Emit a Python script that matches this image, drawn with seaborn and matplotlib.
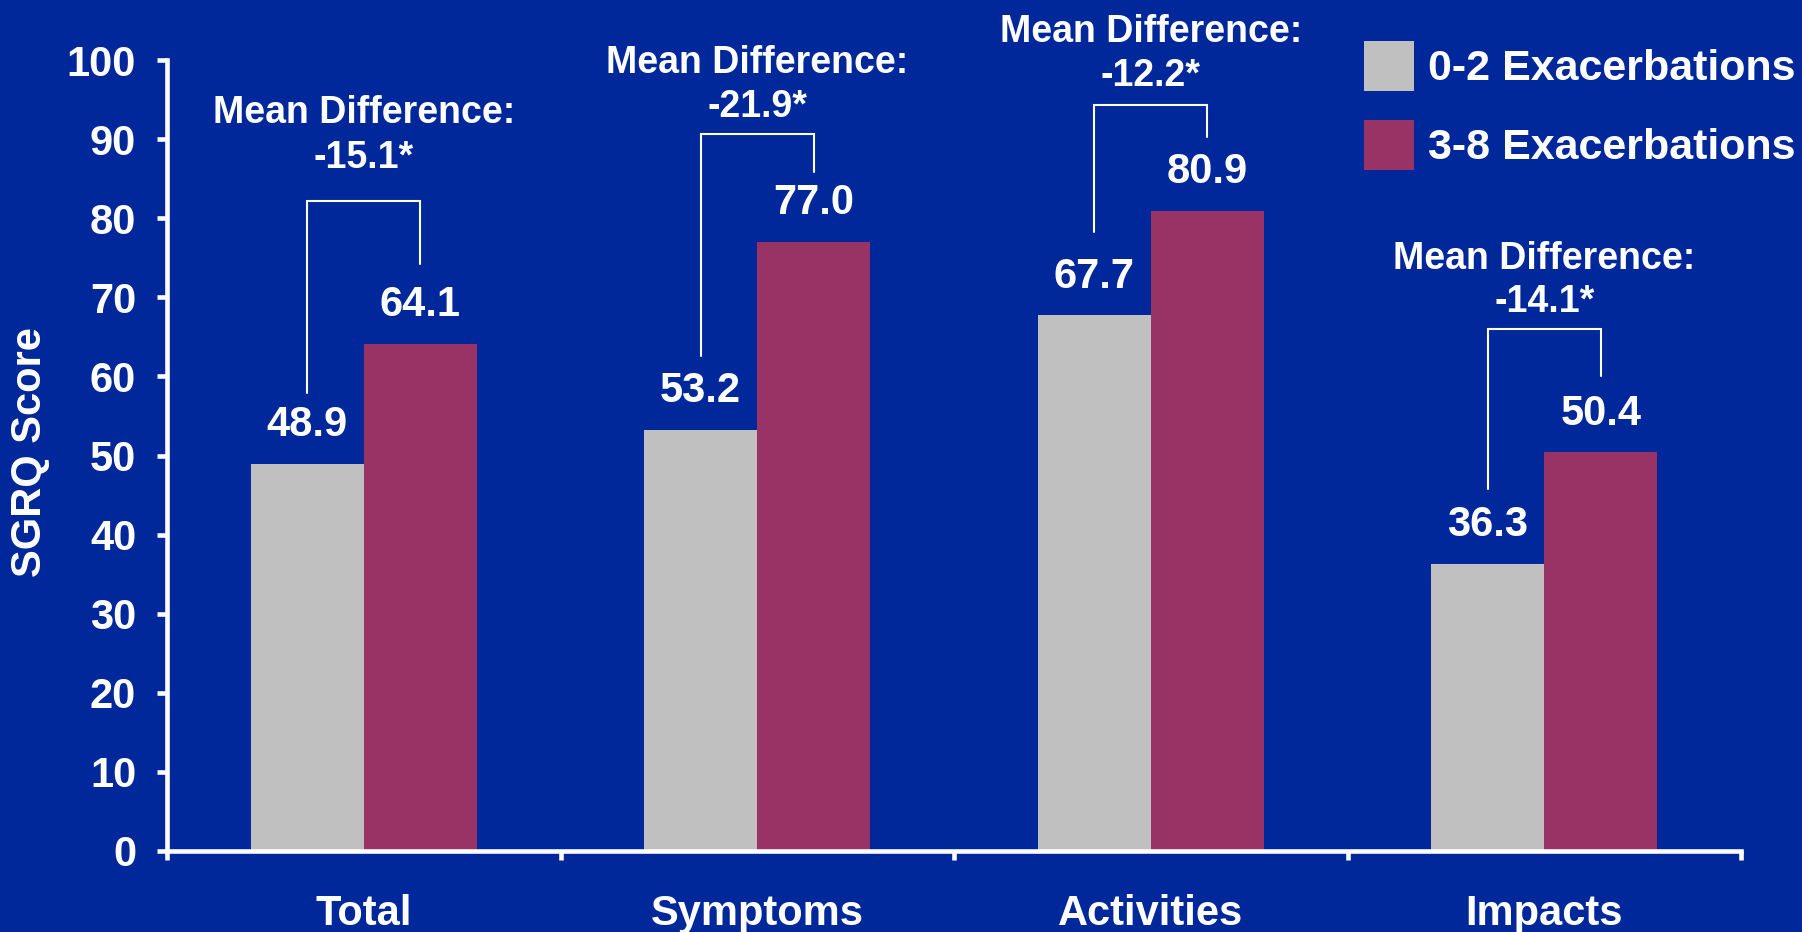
import matplotlib
matplotlib.use("Agg")
import matplotlib.pyplot as plt
import seaborn as sns
import pandas as pd

# SGRQ scores by exacerbation frequency
domains = ["Total", "Symptoms", "Activities", "Impacts"]
groups = ["0-2 Exacerbations", "3-8 Exacerbations"]
low_exac = [48.9, 53.2, 67.7, 36.3]
high_exac = [64.1, 77.0, 80.9, 50.4]
mean_diff = ["-15.1*", "-21.9*", "-12.2*", "-14.1*"]
y_ticks = [0, 10, 20, 30, 40, 50, 60, 70, 80, 90, 100]

BG = "#00289A"
BAR_COLORS = ["#C0C0C0", "#993366"]
FG = "white"

# bracket / annotation offsets (in score units)
left_gap = [9.0, 9.4, 10.5, 9.5]
right_gap = [10.1, 8.9, 9.4, 9.6]
top_gap = [18.1, 13.6, 13.4, 15.6]
line1_gap = [11.1, 9.0, 9.3, 8.9]
line2_gap = [5.4, 3.4, 3.7, 3.4]
value_gap = 4.9

sns.set_theme(style="white")
plt.rcParams["font.family"] = ["Liberation Sans", "DejaVu Sans"]
plt.rcParams["font.weight"] = "bold"

df = pd.DataFrame({
    "domain": domains * 2,
    "group": [groups[0]] * len(domains) + [groups[1]] * len(domains),
    "score": low_exac + high_exac,
})

W, H = 1802, 932
fig = plt.figure(figsize=(W / 100, H / 100), dpi=100, facecolor=BG)
ax = fig.add_axes([167 / W, 81 / H, 1574 / W, 791 / H])
ax.set_facecolor(BG)

sns.barplot(data=df, x="domain", y="score", hue="group", order=domains,
            hue_order=groups, palette=BAR_COLORS, width=0.575, saturation=1,
            gap=0, linewidth=0, ax=ax)

ax.set_ylim(0, 100)
ax.set_xlim(-0.5, len(domains) - 0.5)
ax.set_yticks(y_ticks)
ax.set_yticklabels([str(t) for t in y_ticks], fontsize=30, color=FG, fontweight="bold")

# category boundary ticks below the axis, labels centred on the groups
ax.set_xticks([i - 0.5 for i in range(len(domains) + 1)])
ax.set_xticklabels([])
ax.set_xticks(range(len(domains)), minor=True)
ax.set_xticklabels(domains, minor=True, fontsize=30, color=FG, fontweight="bold")
ax.tick_params(axis="x", which="major", direction="out", length=6.5, width=3.3,
               color=FG, bottom=True)
ax.tick_params(axis="x", which="minor", length=0, pad=31)
ax.tick_params(axis="y", direction="out", length=7.2, width=3.3, color=FG,
               pad=15, left=True)

for s in ["top", "right"]:
    ax.spines[s].set_visible(False)
for s in ["left", "bottom"]:
    ax.spines[s].set_color(FG)
    ax.spines[s].set_linewidth(3.3)

ax.set_xlabel("")
ax.set_ylabel("SGRQ Score", fontsize=30, color=FG, fontweight="bold")
ax.yaxis.set_label_coords(-0.0745, 0.504)

lo_bars = ax.containers[0]
hi_bars = ax.containers[1]
for i in range(len(domains)):
    bl, bh = lo_bars[i], hi_bars[i]
    xl = bl.get_x() + bl.get_width() / 2
    xr = bh.get_x() + bh.get_width() / 2
    vl, vh = low_exac[i], high_exac[i]
    ax.text(xl, vl + value_gap, f"{vl:.1f}", ha="center", va="center",
            fontsize=30, color=FG, fontweight="bold")
    ax.text(xr, vh + value_gap, f"{vh:.1f}", ha="center", va="center",
            fontsize=30, color=FG, fontweight="bold")
    ytop = vh + top_gap[i]
    ax.plot([xl, xl, xr, xr], [vl + left_gap[i], ytop, ytop, vh + right_gap[i]],
            color=FG, lw=1.5, clip_on=False, solid_joinstyle="miter")
    ax.text(i, ytop + line1_gap[i], "Mean Difference:", ha="center", va="center",
            fontsize=27, color=FG, fontweight="bold", clip_on=False)
    ax.text(i, ytop + line2_gap[i], mean_diff[i], ha="center", va="center",
            fontsize=27, color=FG, fontweight="bold", clip_on=False)

handles, labels = ax.get_legend_handles_labels()
ax.legend(handles, labels, loc="upper left", bbox_to_anchor=(1364 / W, 1 - 41 / H),
          bbox_transform=fig.transFigure, frameon=False, borderpad=0,
          borderaxespad=0, handlelength=1.16, handleheight=1.4,
          handletextpad=0.33, labelspacing=0.68,
          prop={"size": 31, "weight": "bold"}, labelcolor=FG)

fig.savefig("out.png", dpi=100, facecolor=BG)
